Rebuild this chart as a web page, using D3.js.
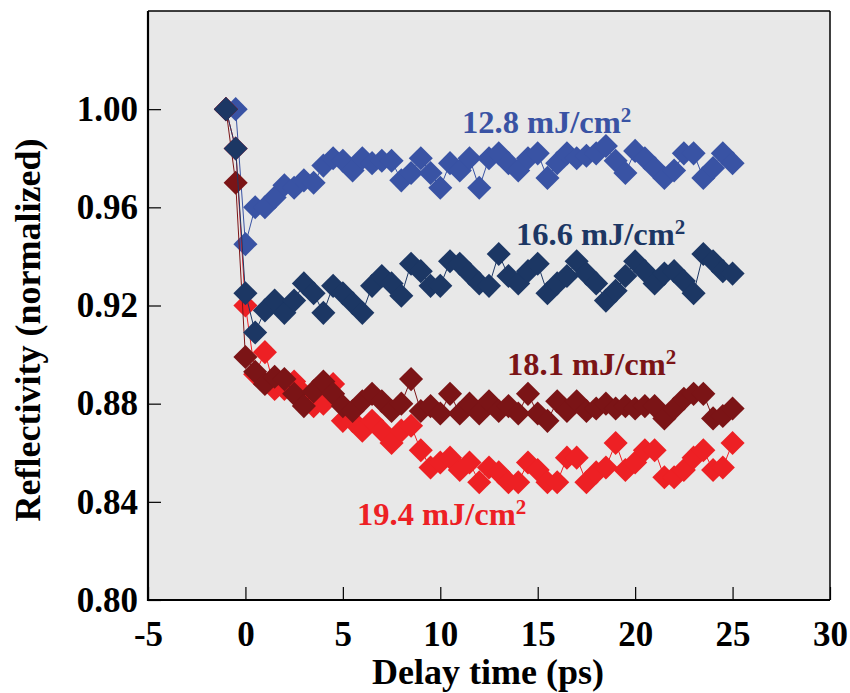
<!DOCTYPE html>
<html>
<head>
<meta charset="utf-8">
<script src="https://cdn.jsdelivr.net/npm/d3@7"></script>
<style>
  body{margin:0;background:#fff;}
  svg text{font-family:"Liberation Serif","Times New Roman",serif;font-weight:bold;}
</style>
</head>
<body>
<div id="chart"></div>
<script>
// delay times (ps), shared by all four runs
const times=[-1,-0.5,0,0.5,1,1.5,2,2.5,3,3.5,4,4.5,5,5.5,6,6.5,7,7.5,8,8.5,9,9.5,10,10.5,11,11.5,12,12.5,13,13.5,14,14.5,15,15.5,16,16.5,17,17.5,18,18.5,19,19.5,20,20.5,21,21.5,22,22.5,23,23.5,24,24.5,25];
const r128=[1.000,1.000,0.945,0.960,0.960,0.964,0.969,0.968,0.971,0.970,0.977,0.980,0.979,0.975,0.980,0.978,0.979,0.979,0.971,0.974,0.980,0.974,0.968,0.978,0.975,0.980,0.968,0.980,0.982,0.978,0.975,0.980,0.982,0.972,0.978,0.982,0.980,0.981,0.982,0.985,0.979,0.974,0.983,0.980,0.976,0.972,0.975,0.982,0.982,0.972,0.976,0.982,0.978];
const r166=[1.000,0.984,0.925,0.909,0.918,0.922,0.917,0.922,0.929,0.925,0.917,0.928,0.925,0.921,0.917,0.928,0.932,0.929,0.924,0.937,0.934,0.928,0.928,0.938,0.937,0.933,0.929,0.928,0.941,0.932,0.929,0.934,0.937,0.925,0.929,0.932,0.938,0.933,0.929,0.922,0.926,0.932,0.938,0.934,0.929,0.933,0.934,0.930,0.925,0.941,0.938,0.934,0.933];
const r181=[1.000,0.970,0.899,0.893,0.888,0.891,0.890,0.884,0.879,0.885,0.889,0.884,0.879,0.877,0.881,0.884,0.881,0.877,0.880,0.890,0.877,0.879,0.876,0.884,0.876,0.880,0.876,0.881,0.877,0.879,0.876,0.884,0.876,0.873,0.881,0.877,0.881,0.877,0.878,0.880,0.878,0.879,0.878,0.879,0.879,0.874,0.878,0.882,0.884,0.884,0.874,0.875,0.878];
const r194=[1.000,0.984,0.920,0.892,0.901,0.886,0.886,0.889,0.884,0.879,0.880,0.888,0.873,0.873,0.869,0.873,0.869,0.864,0.869,0.871,0.861,0.854,0.856,0.858,0.853,0.856,0.848,0.854,0.852,0.848,0.848,0.856,0.853,0.848,0.848,0.858,0.858,0.848,0.852,0.854,0.864,0.853,0.856,0.861,0.861,0.850,0.850,0.853,0.858,0.861,0.853,0.854,0.864];
const xTicks=[-5,0,5,10,15,20,25,30];
const yTicks=[0.80,0.84,0.88,0.92,0.96,1.00];

const runs=[
  {name:"12.8",values:r128,color:"#3953a4",lx:462,ly:133},
  {name:"19.4",values:r194,color:"#ed2024",lx:357,ly:525},
  {name:"18.1",values:r181,color:"#7b1416",lx:507,ly:375},
  {name:"16.6",values:r166,color:"#1c3764",lx:516,ly:245}
];

const W=850,H=693;
const m={top:11,right:20,bottom:93,left:148};
const svg=d3.select("#chart").append("svg").attr("width",W).attr("height",H);
const x=d3.scaleLinear().domain([-5,30]).range([m.left,W-m.right]);
const y=d3.scaleLinear().domain([0.80,1.04]).range([H-m.bottom,m.top]);

svg.append("rect").attr("x",x(-5)).attr("y",y(1.04)).attr("width",x(30)-x(-5)).attr("height",y(0.80)-y(1.04)).attr("fill","#e8e8e8");

const xa=svg.append("g").attr("transform",`translate(0,${y(0.80)})`)
  .call(d3.axisBottom(x).tickValues(xTicks).tickFormat(d=>String(d)).tickSize(-13).tickPadding(21));
const ya=svg.append("g").attr("transform",`translate(${x(-5)},0)`)
  .call(d3.axisLeft(y).tickValues(yTicks).tickFormat(d3.format(".2f")).tickSize(-13).tickPadding(10));
[xa,ya].forEach(a=>{
  a.select(".domain").remove();
  a.selectAll("line").attr("stroke","#000").attr("stroke-width",1.2);
  a.selectAll("text").attr("fill","#000").attr("font-size",35);
});

const line=d3.line().x((d,i)=>x(times[i])).y(d=>y(d));
const diamond=d3.symbol(d3.symbolSquare,290);
runs.forEach(r=>{
  const g=svg.append("g");
  g.append("path").datum(r.values).attr("d",line).attr("fill","none").attr("stroke",r.color).attr("stroke-width",1);
  g.selectAll("path.pt").data(r.values).join("path").attr("class","pt")
    .attr("d",diamond).attr("fill",r.color)
    .attr("transform",(d,i)=>`translate(${x(times[i])},${y(d)}) rotate(45)`);
});

// frame
svg.append("line").attr("x1",x(-5)).attr("x2",x(30)).attr("y1",y(1.04)).attr("y2",y(1.04)).attr("stroke","#000").attr("stroke-width",1.5);
svg.append("line").attr("x1",x(30)).attr("x2",x(30)).attr("y1",y(1.04)).attr("y2",y(0.80)).attr("stroke","#000").attr("stroke-width",1.5);
svg.append("line").attr("x1",x(-5)).attr("x2",x(-5)).attr("y1",y(1.04)).attr("y2",y(0.80)+1).attr("stroke","#000").attr("stroke-width",2.2);
svg.append("line").attr("x1",x(-5)-1).attr("x2",x(30)).attr("y1",y(0.80)).attr("y2",y(0.80)).attr("stroke","#000").attr("stroke-width",2.2);

runs.forEach(r=>{
  const t=svg.append("text").attr("x",r.lx).attr("y",r.ly).attr("fill",r.color).attr("font-size",32.5);
  t.append("tspan").text(`${r.name} mJ/cm`);
  t.append("tspan").attr("font-size",21).attr("dy",-11).text("2");
});

svg.append("text").attr("x",488).attr("y",684).attr("text-anchor","middle").attr("font-size",36).text("Delay time (ps)");
svg.append("text").attr("transform",`translate(40,${y(0.91)}) rotate(-90)`).attr("text-anchor","middle").attr("font-size",36).text("Reflectivity (normalized)");
</script>
</body>
</html>
